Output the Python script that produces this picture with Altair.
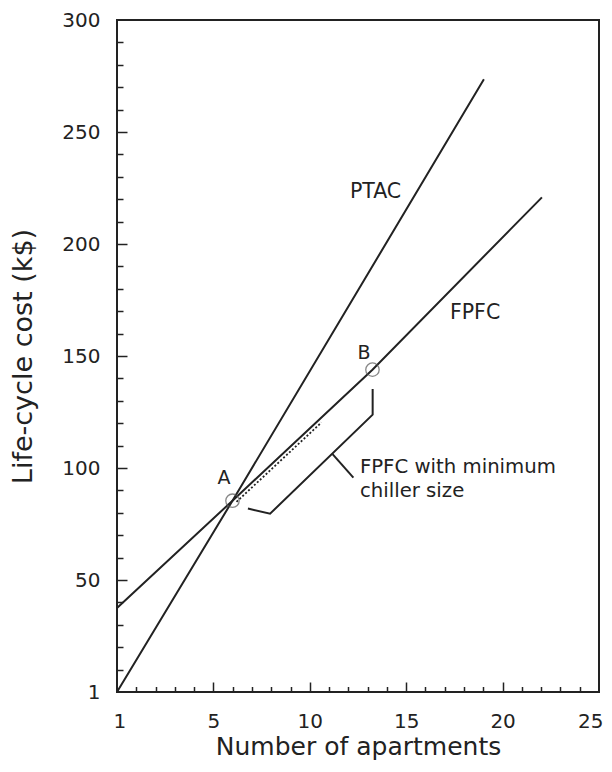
import altair as alt
import pandas as pd

# ---- data ----
ptac_x = [0, 5.99, 19.03]
ptac_y = [0, 85.4, 273.5]
fpfc_x = [0, 5.99, 13.25, 20.38, 22.04]
fpfc_y = [37.5, 85.4, 143.9, 206.3, 220.8]
minchill_x = [6.2, 10.6]
minchill_y = [84.9, 120.3]
pt_labels = ["A", "B"]
pt_x = [5.99, 13.25]
pt_y = [85.4, 143.9]
ptlab_x = [5.55, 12.81]
ptlab_y = [92.8, 148.8]
bracket_x = [6.79, 7.94, 13.26, 13.26]
bracket_y = [81.9, 79.6, 123.8, 135.3]
leader_x = [11.18, 12.26]
leader_y = [106.2, 95.7]
series_text = ["PTAC", "FPFC"]
series_tx = [12.08, 17.27]
series_ty = [220.7, 166.5]
note_text = ["FPFC with minimum", "chiller size"]
note_x = [12.6, 12.6]
note_y = [97.8, 86.9]
x_label_vals = [0, 5, 10, 15, 20, 25]
y_label_vals = [0, 50, 100, 150, 200, 250, 300]
x_tick_vals = [1, 2, 3, 4, 5, 6, 7, 8, 9, 10, 11, 12, 13, 14, 15, 16, 17, 18, 19, 20, 21, 22, 23, 24]
y_tick_vals = [10, 20, 30, 40, 50, 60, 70, 80, 90, 100, 110, 120, 130, 140, 150, 160, 170, 180,
               190, 200, 210, 220, 230, 240, 250, 260, 270, 280, 290]

INK = "#222222"
FONT = "DejaVu Sans"
W, H = 482, 672

ptac_df = pd.DataFrame({"x": ptac_x, "y": ptac_y})
fpfc_df = pd.DataFrame({"x": fpfc_x, "y": fpfc_y})
minchill_df = pd.DataFrame({"x": minchill_x, "y": minchill_y})
pts_df = pd.DataFrame({"label": pt_labels, "x": pt_x, "y": pt_y, "lx": ptlab_x, "ly": ptlab_y})
bracket_df = pd.DataFrame({"x": bracket_x, "y": bracket_y, "o": list(range(len(bracket_x)))})
leader_df = pd.DataFrame({"x": leader_x, "y": leader_y, "o": list(range(len(leader_x)))})
series_df = pd.DataFrame({"text": series_text, "x": series_tx, "y": series_ty})
notes_df = pd.DataFrame({"text": note_text, "x": note_x, "y": note_y})

xs = alt.Scale(domain=[0, 25], nice=False, zero=False)
ys = alt.Scale(domain=[0, 300], nice=False, zero=False)

x_main_axis = alt.Axis(
    orient="bottom", values=x_label_vals, labelExpr="datum.value == 0 ? '1' : datum.label",
    ticks=False, domain=False, grid=False, labelFont=FONT, labelFontSize=20, labelColor=INK,
    labelPadding=19, labelFlush=True, labelFlushOffset=4, labelOverlap=False,
    title="Number of apartments", titleFont=FONT, titleFontSize=25, titleFontWeight="normal",
    titleColor=INK, titlePadding=3,
)
y_main_axis = alt.Axis(
    orient="left", values=y_label_vals, labelExpr="datum.value == 0 ? '1' : datum.label",
    ticks=False, domain=False, grid=False, labelFont=FONT, labelFontSize=20, labelColor=INK,
    labelPadding=17, labelFlush=False, labelOverlap=False,
    title="Life-cycle cost (k$)", titleFont=FONT, titleFontSize=27, titleFontWeight="normal",
    titleColor=INK, titlePadding=24,
)
x_tick_axis = alt.Axis(
    orient="top", offset=-H, values=x_tick_vals, labels=False, domain=False, grid=False,
    ticks=True, tickColor=INK, tickWidth=1.5,
    tickSize={"condition": {"test": "datum.value % 5 === 0", "value": 10}, "value": 5.5},
    title=None,
)
y_tick_axis = alt.Axis(
    orient="right", offset=-W, values=y_tick_vals, labels=False, domain=False, grid=False,
    ticks=True, tickColor=INK, tickWidth=1.5,
    tickSize={"condition": {"test": "datum.value % 50 === 0", "value": 10}, "value": 6},
    title=None,
)

fpfc = alt.Chart(fpfc_df).mark_line(color=INK, strokeWidth=2).encode(
    x=alt.X("x:Q", scale=xs, axis=x_main_axis),
    y=alt.Y("y:Q", scale=ys, axis=y_main_axis),
)
ptac = alt.Chart(ptac_df).mark_line(color=INK, strokeWidth=2).encode(
    x=alt.X("x:Q", scale=xs, axis=x_tick_axis),
    y=alt.Y("y:Q", scale=ys, axis=y_tick_axis),
)
minchill = alt.Chart(minchill_df).mark_line(color=INK, strokeWidth=1.8, strokeDash=[2, 2]).encode(
    x=alt.X("x:Q", scale=xs, axis=None),
    y=alt.Y("y:Q", scale=ys, axis=None),
)
circles = alt.Chart(pts_df).mark_point(shape="circle", size=180, filled=False, color="#555555",
                                       strokeWidth=1.3).encode(
    x=alt.X("x:Q", scale=xs, axis=None),
    y=alt.Y("y:Q", scale=ys, axis=None),
)
pt_text = alt.Chart(pts_df).mark_text(font=FONT, fontSize=19, color=INK, align="center",
                                      baseline="alphabetic").encode(
    x=alt.X("lx:Q", scale=xs, axis=None),
    y=alt.Y("ly:Q", scale=ys, axis=None),
    text="label:N",
)
bracket = alt.Chart(bracket_df).mark_line(color=INK, strokeWidth=2).encode(
    x=alt.X("x:Q", scale=xs, axis=None),
    y=alt.Y("y:Q", scale=ys, axis=None),
    order="o:Q",
)
leader = alt.Chart(leader_df).mark_line(color=INK, strokeWidth=2).encode(
    x=alt.X("x:Q", scale=xs, axis=None),
    y=alt.Y("y:Q", scale=ys, axis=None),
    order="o:Q",
)
series_lab = alt.Chart(series_df).mark_text(font=FONT, fontSize=20.5, color=INK, align="left",
                                            baseline="alphabetic").encode(
    x=alt.X("x:Q", scale=xs, axis=None),
    y=alt.Y("y:Q", scale=ys, axis=None),
    text="text:N",
)
notes = alt.Chart(notes_df).mark_text(font=FONT, fontSize=19.7, color=INK, align="left",
                                      baseline="alphabetic").encode(
    x=alt.X("x:Q", scale=xs, axis=None),
    y=alt.Y("y:Q", scale=ys, axis=None),
    text="text:N",
)

chart = alt.layer(
    fpfc, ptac, minchill, circles, pt_text, bracket, leader, series_lab, notes
).resolve_axis(
    x="independent", y="independent"
).properties(
    width=W, height=H,
    autosize=alt.AutoSizeParams(type="none"),
    padding={"left": 109, "top": 12, "right": 5, "bottom": 68},
).configure_view(stroke=INK, strokeWidth=2)

chart.save("out.html", embed_options={"renderer": "svg", "actions": False})
